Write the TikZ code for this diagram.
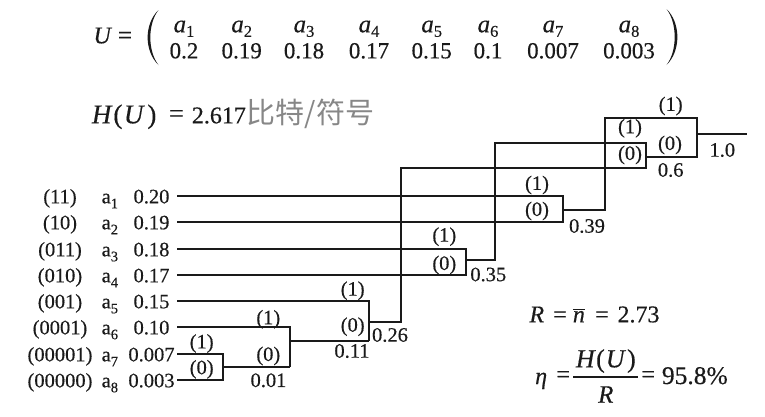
\documentclass[tikz,border=0pt]{standalone}
\usepackage{fontspec}
\setmainfont{Liberation Serif}[FakeBold=0.35]
\newfontfamily\cjkfont{Noto Sans CJK SC}
\definecolor{ink}{RGB}{26,26,26}
\definecolor{cjkgray}{RGB}{135,135,135}
\newcommand\lsub[1]{\raisebox{-5pt}{\fontsize{14.5}{14.5}\selectfont #1}}
\newcommand\msub[1]{\raisebox{-4.5pt}{\fontsize{16.5}{16.5}\selectfont #1}}
\begin{document}
\begin{tikzpicture}[x=1pt,y=-1pt,
  wire/.style={line width=1.4pt, draw=ink},
  lbl/.style={inner sep=0pt, text=ink, font=\fontsize{20.5}{21}\selectfont},
  lefttxt/.style={inner sep=0pt, anchor=base, text=ink, font=\fontsize{20.5}{21}\selectfont},
  toptxt/.style={inner sep=0pt, anchor=base, text=ink, font=\fontsize{23}{24}\selectfont},
  eqtxt/.style={inner sep=0pt, text=ink, font=\fontsize{24}{25}\selectfont}]
\fill[white] (0,0) rectangle (765,416);
\useasboundingbox (0,0) rectangle (765,416);

% ---------- top formula ----------
\node[toptxt, anchor=base west, font=\fontsize{24}{25}\selectfont] (U) at (93.3,43.3) {\itshape U};
\node[inner sep=0pt, text=ink, font=\fontsize{25}{25}\selectfont] (eqU) at (125,37.7) {=};
\fill[ink] (158.5,10) .. controls (144,24) and (144,51) .. (158.5,65)
   .. controls (147.6,51) and (147.6,24) .. (158.5,10) -- cycle;
\fill[ink] (666.5,9) .. controls (681,23) and (681,51) .. (666.5,65)
   .. controls (677.4,51) and (677.4,23) .. (666.5,9) -- cycle;
\foreach \i/\x/\p in {1/184/0.2, 2/241.7/0.19, 3/304/0.18, 4/369/0.17,
                      5/431.7/0.15, 6/488/0.1, 7/553/0.007, 8/629/0.003}{
  \node[toptxt] (t\i) at (\x,32.3) {{\fontsize{25}{25}\selectfont\itshape a}\msub{\i}};
  \node[toptxt] (q\i) at (\x,58.3) {\p};
}

% ---------- H(U) line ----------
\node[inner sep=0pt, anchor=base west, text=ink, font=\fontsize{27}{28}\selectfont] (HU)
  at (91.7,123.3) {{\itshape H}\kern2pt(\kern1.5pt{\itshape U}\kern4pt)};
\node[inner sep=0pt, text=ink, font=\fontsize{26}{27}\selectfont] (HUeq) at (176.5,116) {=};
\node[inner sep=0pt, anchor=base west, text=ink, font=\fontsize{24}{25}\selectfont] (HUval)
  at (191.7,123.3) {2.617};
\node[inner sep=0pt, anchor=west, text=cjkgray, font=\cjkfont\fontsize{29}{30}\selectfont] (HUunit)
  at (246.5,114.2) {比特/符号};

% ---------- left labels ----------
\foreach \i/\y/\c/\p in {1/196/(11)/0.20, 2/222/(10)/0.19, 3/249/(011)/0.18,
     4/275/(010)/0.17, 5/301/(001)/0.15, 6/327/(0001)/0.10,
     7/354/(00001)/0.007, 8/380/(00000)/0.003}{
  \node[lefttxt] (c\i) at (60,\y+7.3) {\c};
  \node[lefttxt, anchor=base west] (l\i) at (101.5,\y+7.3) {a\lsub{\i}};
  \node[lefttxt] (p\i) at (151.5,\y+7.3) {\p};
  \coordinate (s\i) at (177,\y);
}

% ---------- junction coordinates ----------
\coordinate (j001) at (223,367);
\coordinate (j011) at (290,341);
\coordinate (j026) at (369,322);
\coordinate (j035) at (466,260);
\coordinate (j039) at (563,210);
\coordinate (u026) at (401,168);
\coordinate (u035) at (495,143);
\coordinate (t06) at (646,143);
\coordinate (b06) at (646,168);
\coordinate (j06) at (646,157);
\coordinate (u039) at (605,118);
\coordinate (t10) at (697,118);
\coordinate (b10) at (697,157);
\coordinate (j10) at (697,134);
\coordinate (out) at (747,134);

% ---------- tree ----------
\draw[wire] (s7) -- (s7 -| j001) -- (s8 -| j001) -- (s8);
\draw[wire] (j001) -- (j001 -| j011);
\draw[wire] (s6) -- (s6 -| j011) -- (j001 -| j011);
\draw[wire] (j011) -- (j011 -| j026);
\draw[wire] (s5) -- (s5 -| j026) -- (j011 -| j026);
\draw[wire] (s3) -- (s3 -| j035) -- (s4 -| j035) -- (s4);
\draw[wire] (s1) -- (s1 -| j039) -- (s2 -| j039) -- (s2);
\draw[wire] (j026) -- (j026 -| u026) -- (u026) -- (b06) -- (t06) -- (u035) -- (j035 -| u035) -- (j035);
\draw[wire] (j039) -- (j039 -| u039) -- (u039) -- (t10) -- (b10) -- (j06);
\draw[wire] (j10) -- (out);

% ---------- branch labels ----------
\node[lbl] (b001a) at (201.7,343.5) {(1)};
\node[lbl] (b001b) at (201.7,369.3) {(0)};
\node[lbl] (v001) at (268.5,380.3) {0.01};
\node[lbl] (b011a) at (268.3,319.3) {(1)};
\node[lbl] (b011b) at (268.3,356) {(0)};
\node[lbl] (v011) at (352,351) {0.11};
\node[lbl] (b026a) at (352.7,290.7) {(1)};
\node[lbl] (b026b) at (352.7,326.7) {(0)};
\node[lbl] (v026) at (390,335) {0.26};
\node[lbl] (b035a) at (444.3,236.7) {(1)};
\node[lbl] (b035b) at (444.3,265) {(0)};
\node[lbl] (v035) at (488.3,274.5) {0.35};
\node[lbl] (b039a) at (537,185) {(1)};
\node[lbl] (b039b) at (537,211) {(0)};
\node[lbl] (v039) at (587,226) {0.39};
\node[lbl] (b06a) at (630,128.3) {(1)};
\node[lbl] (b06b) at (630,155) {(0)};
\node[lbl] (v06) at (670.7,170) {0.6};
\node[lbl] (b10a) at (670.7,106) {(1)};
\node[lbl] (b10b) at (670,145) {(0)};
\node[lbl] (v10) at (722.3,150) {1.0};

% ---------- R and eta ----------
\node[eqtxt, anchor=base west] (Rline) at (529.3,322.3)
  {{\itshape R}\hspace{9pt}=\hspace{6.2pt}$\overline{\mbox{\itshape n}}$\hspace{10.3pt}=\hspace{8.8pt}2.73};
\node[eqtxt, anchor=base west] (eta) at (535,384) {\itshape η};
\node[eqtxt] (etaeq) at (563.3,376.7) {=};
\coordinate (fracL) at (573.3,377);
\coordinate (fracR) at (638.3,377);
\draw[line width=1.4pt, draw=ink] (fracL) -- (fracR);
\node[inner sep=0pt, anchor=base, text=ink, font=\fontsize{26}{27}\selectfont] (num)
  at (605.8,367.3) {{\itshape H}\kern1.5pt(\kern1pt{\itshape U}\kern2.5pt)};
\node[inner sep=0pt, anchor=base, text=ink, font=\fontsize{25}{26}\selectfont] (den)
  at (605.8,402.7) {\itshape R};
\node[eqtxt] (etaeq2) at (648.3,376.7) {=};
\node[inner sep=0pt, anchor=base west, text=ink, font=\fontsize{25.5}{26}\selectfont] (etaval)
  at (661.7,384) {95.8\%};
\end{tikzpicture}
\end{document}
